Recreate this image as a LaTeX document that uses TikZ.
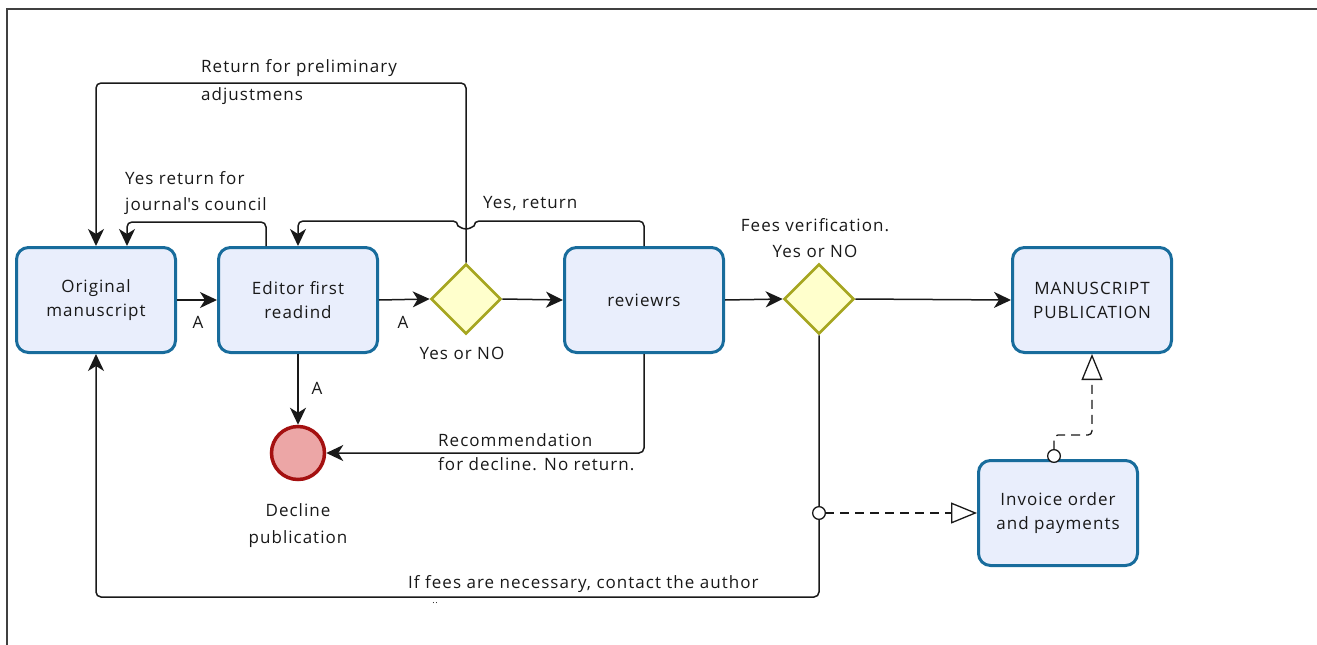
\documentclass[tikz,border=0pt]{standalone}
\usepackage{fontspec}
\setmainfont[LetterSpace=6]{Open Sans}
\usetikzlibrary{arrows.meta,shapes.geometric,calc}
\definecolor{taskfill}{RGB}{233,238,252}
\definecolor{taskline}{RGB}{24,108,156}
\definecolor{gwfill}{RGB}{255,255,204}
\definecolor{gwline}{RGB}{166,166,32}
\definecolor{endfill}{RGB}{236,166,166}
\definecolor{endline}{RGB}{164,16,16}
\definecolor{ink}{RGB}{25,25,25}

\begin{document}
\begin{tikzpicture}[x=1pt,y=-1pt,
  every node/.style={font=\fontsize{17}{24}\selectfont, text=ink},
  task/.style={draw=taskline, fill=taskfill, line width=3pt, rounded corners=12pt,
    minimum width=159pt, minimum height=105pt, align=center, inner sep=0pt},
  gw/.style={diamond, draw=gwline, fill=gwfill, line width=2.6pt,
    minimum width=70pt, minimum height=70pt, inner sep=0pt},
  endev/.style={circle, draw=endline, fill=endfill, line width=3.5pt,
    minimum size=53pt, inner sep=0pt},
  flow/.style={draw=ink, line width=1.5pt, rounded corners=5pt,
    -{Stealth[length=17pt,width=16pt,inset=5pt]}},
  msg/.style={draw=ink, line width=1.3pt, dash pattern=on 9pt off 6pt, rounded corners=4pt,
    {Circle[length=14pt,fill=white,line width=1.3pt]}-{Triangle[length=26pt,width=21pt,fill=white,line width=1.3pt]}},
  lbl/.style={align=left, inner sep=0pt, anchor=west},
]
\useasboundingbox (0,0) rectangle (1317,645);

% frame of the pool
\draw[line width=1.6pt, black!75] (7,645) -- (7,9) -- (1317,9);

% activities, gateways, end event
\node[task] (orig) at (96,300) {Original\\manuscript};
\node[task] (edit) at (298,300) {Editor first\\readind};
\node[gw] (gw1) at (466,299) {};
\node[task] (rev) at (644,300) {reviewrs};
\node[gw] (gw2) at (819,299) {};
\node[task] (pub) at (1092,300) {MANUSCRIPT\\PUBLICATION};
\node[task] (inv) at (1058,513) {Invoice order\\and payments};
\node[endev] (dec) at (298,453) {};

% element labels
\node (gw1lbl) at (462,353) {Yes or NO};
\node[align=center, font=\fontsize{17}{26}\selectfont] (gw2lbl) at (815,238) {Fees verification.\\Yes or NO};
\node[align=center, font=\fontsize{17}{27}\selectfont] (declbl) at (298,526) {Decline\\publication};

% routing levels
\coordinate (ytop) at (0,83);
\coordinate (yyes) at (0,221);
\coordinate (ybot) at (0,597);

% sequence flows along the main line
\draw[flow] (orig.east) -- (edit.west);
\draw[flow] (edit.east) -- (gw1.west);
\draw[flow] (gw1.east) -- (rev.west);
\draw[flow] (rev.east) -- (gw2.west);
\draw[flow] (gw2.east) -- (pub.west);
\draw[flow] (edit.south) -- (dec.north);
\draw[flow] (rev.south) |- (dec.east);

% return loops
\draw[flow] (gw1.north) -- (gw1.north |- ytop) -| (orig.north);
\draw[flow] ($(edit.north)+(-32,0)$) -- ++(0,-24) -| ($(orig.north)+(31,0)$);
\draw[flow] (rev.north) -- (rev.north |- yyes) -- ($(gw1.north |- yyes)+(8,0)$)
  arc[start angle=0, end angle=180, radius=8] -- (edit.north |- yyes) -- (edit.north);
\draw[flow] (gw2.south) -- (gw2.south |- ybot) -| (orig.south);

% message flows
\coordinate (mfa) at ($(gw2.south |- inv.west)+(-7,0)$);
\draw[msg] (mfa) -- (inv.west);
\coordinate (mfb) at ($(inv.north)+(-4,4)$);
\draw[msg] (mfb) -- ++(0,-28) -| (pub.south);

% flow labels
\node (la) at (198,322) {A};
\node (lb) at (403,322) {A};
\node (lc) at (317,388) {A};
\node[lbl, font=\fontsize{17}{28}\selectfont] (lret) at (201,82) {Return for preliminary\\adjustmens};
\node[lbl, font=\fontsize{17}{26}\selectfont] (lyes) at (125,193) {Yes return for\\journal\textquotesingle s council};
\node[lbl] (lyr) at (483,204) {Yes, return};
\node[lbl] (lrec) at (438,452) {Recommendation\\for decline. No return.};
\node[lbl] (lfee) at (408,584) {If fees are necessary, contact the author};
\node[font=\fontsize{9}{9}\selectfont] (ldots) at (435,603) {..};
\end{tikzpicture}
\end{document}
